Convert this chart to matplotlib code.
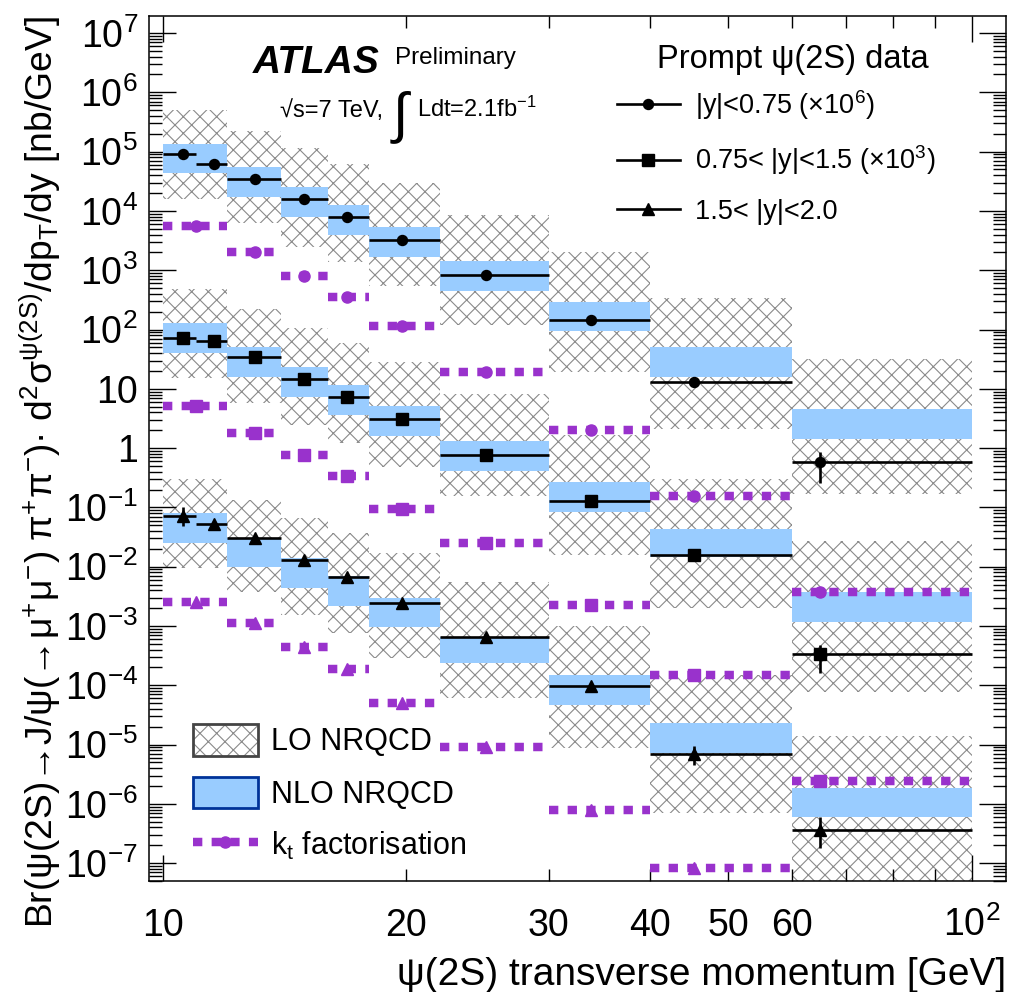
import numpy as np
import matplotlib
matplotlib.use("Agg")
import matplotlib.pyplot as plt
from matplotlib.ticker import LogLocator, FuncFormatter, NullFormatter
from matplotlib.patches import Patch
from matplotlib.lines import Line2D
from matplotlib.legend_handler import HandlerTuple

plt.rcParams['font.family'] = ['Liberation Sans', 'DejaVu Sans']
plt.rcParams['mathtext.fontset'] = 'custom'
plt.rcParams['mathtext.rm'] = 'Liberation Sans'
plt.rcParams['mathtext.it'] = 'Liberation Sans:italic'
plt.rcParams['mathtext.bf'] = 'Liberation Sans:bold'
plt.rcParams['mathtext.default'] = 'regular'
plt.rcParams['hatch.linewidth'] = 0.8

# --- data ---
data_edges = [10, 11, 12, 14, 16, 18, 22, 30, 40, 60, 100]
data_pt = [10.58, 11.56, 13.0, 14.93, 16.9, 19.75, 25.07, 33.8, 45.4, 65.0]
theo_edges = [10, 12, 14, 16, 18, 22, 30, 40, 60, 100]
kt_pt = [11.0, 13.0, 14.93, 16.9, 19.75, 25.07, 33.8, 45.4, 65.0]

# |y|<0.75 (x1e6)
top_val = [9.0e4, 6.25e4, 3.41e4, 1.57e4, 7.98e3, 3.23e3, 840, 145, 12.9, 0.59]
top_hi = [1.05e5, 7.0e4, 3.7e4, 1.7e4, 8.6e3, 3.5e3, 910, 160, 14.5, 0.85]
top_lo = [7.8e4, 5.6e4, 3.15e4, 1.45e4, 7.4e3, 2.98e3, 775, 130, 11.3, 0.26]
# 0.75<|y|<1.5 (x1e3)
mid_val = [72.8, 63, 34.7, 14.6, 7.2, 3.1, 0.755, 0.127, 0.0160, 3.33e-4]
mid_hi = [80, 68, 37.5, 15.8, 7.8, 3.35, 0.82, 0.14, 0.0182, 4.8e-4]
mid_lo = [66, 58, 32, 13.4, 6.6, 2.85, 0.69, 0.115, 0.0140, 1.58e-4]
# 1.5<|y|<2.0
bot_val = [0.0716, 0.0525, 0.0305, 0.013, 6.6e-3, 2.47e-3, 6.6e-4, 9.8e-5, 6.9e-6, 3.6e-7]
bot_hi = [0.103, 0.058, 0.034, 0.0145, 7.3e-3, 2.7e-3, 7.2e-4, 1.1e-4, 9.5e-6, 5.9e-7]
bot_lo = [0.049, 0.047, 0.027, 0.0116, 5.9e-3, 2.25e-3, 6.0e-4, 8.6e-5, 4.5e-6, 1.78e-7]

# NLO NRQCD bands
top_nlo_hi = [1.34e5, 5.43e4, 2.5e4, 1.24e4, 5.28e3, 1413, 288, 50.7, 4.56]
top_nlo_lo = [4.3e4, 1.74e4, 7.9e3, 3.97e3, 1.69e3, 451, 94.4, 16.0, 1.42]
mid_nlo_hi = [127, 50.7, 23, 11.5, 5.13, 1.32, 0.268, 0.0432, 3.74e-3]
mid_nlo_lo = [40.6, 15.8, 7.26, 3.6, 1.62, 0.416, 0.0845, 0.0148, 1.18e-3]
bot_nlo_hi = [0.0794, 0.0305, 0.0139, 6.97e-3, 3.0e-3, 6.5e-4, 1.49e-4, 2.29e-5, 1.88e-6]
bot_nlo_lo = [0.0254, 0.01, 4.38e-3, 2.2e-3, 9.5e-4, 2.34e-4, 4.7e-5, 7.1e-6, 6.1e-7]

# LO NRQCD bands
top_lo_hi = [5.03e5, 2.22e5, 1.13e5, 6.17e4, 2.95e4, 8.5e3, 2.0e3, 344, 31.8]
top_lo_lo = [1.58e4, 6.3e3, 2.49e3, 1.39e3, 541, 119, 19.0, 2.07, 0.166]
mid_lo_hi = [476, 219, 107, 58.5, 28.6, 8.07, 1.66, 0.30, 0.0271]
mid_lo_lo = [15.0, 5.7, 2.45, 1.22, 0.48, 0.156, 0.0157, 2.0e-3, 7.8e-5]
bot_lo_hi = [0.30, 0.133, 0.0655, 0.0366, 0.0168, 5.6e-3, 1.0e-3, 1.5e-4, 1.4e-5]
bot_lo_lo = [9.4e-3, 3.7e-3, 1.53e-3, 7.6e-4, 2.9e-4, 6.0e-5, 8.7e-6, 6.9e-7, 1e-8]

# kt factorisation
top_kt = [5.56e3, 2.0e3, 807, 357, 116, 19.4, 2.0, 0.155, 3.7e-3]
mid_kt = [5.13, 1.82, 0.774, 0.343, 0.094, 0.0254, 2.29e-3, 1.48e-4, 2.47e-6]
bot_kt = [2.57e-3, 1.14e-3, 4.37e-4, 1.88e-4, 5.0e-5, 9.0e-6, 7.9e-7, 8.2e-8, np.nan]

# --- style ---
hatch_gray = '#8a8a8a'
nlo_blue = '#99ccff'
kt_purple = '#9932cc'

fig = plt.figure(figsize=(10.09, 9.92), dpi=100)
ax = fig.add_axes([0.1477, 0.1119, 0.849, 0.872])
ax.set_xscale('log')
ax.set_yscale('log')

t_lo = np.array(theo_edges[:-1], dtype=float)
t_w = np.diff(theo_edges).astype(float)

series = [
    (top_val, top_lo, top_hi, top_nlo_lo, top_nlo_hi, top_lo_lo, top_lo_hi, top_kt, 'o', 7.2, 8.0),
    (mid_val, mid_lo, mid_hi, mid_nlo_lo, mid_nlo_hi, mid_lo_lo, mid_lo_hi, mid_kt, 's', 8.0, 8.5),
    (bot_val, bot_lo, bot_hi, bot_nlo_lo, bot_nlo_hi, bot_lo_lo, bot_lo_hi, bot_kt, '^', 8.0, 8.5),
]

for val, lo, hi, nlo_l, nlo_h, lo_l, lo_h, kt, mk, ms, kms in series:
    lo_l = np.array(lo_l); lo_h = np.array(lo_h)
    ax.bar(t_lo, lo_h - lo_l, bottom=lo_l, width=t_w, align='edge', fill=False,
           hatch='xx', edgecolor=hatch_gray, linewidth=0, zorder=1)
    nlo_l = np.array(nlo_l); nlo_h = np.array(nlo_h)
    ax.bar(t_lo, nlo_h - nlo_l, bottom=nlo_l, width=t_w, align='edge',
           color=nlo_blue, linewidth=0, zorder=2)
    for i, v in enumerate(kt):
        if np.isnan(v):
            continue
        ax.plot([theo_edges[i], theo_edges[i + 1]], [v, v], color=kt_purple, lw=6.1,
                dashes=(1.1, 1.1), dash_capstyle='butt', solid_capstyle='butt', zorder=3)
        ax.plot([kt_pt[i]], [v], marker=mk, ms=kms, color=kt_purple, lw=0, zorder=3)
    x = np.array(data_pt)
    y = np.array(val)
    xerr = [x - np.array(data_edges[:-1]), np.array(data_edges[1:]) - x]
    yerr = [y - np.array(lo), np.array(hi) - y]
    ax.errorbar(x, y, xerr=xerr, yerr=yerr, fmt=mk, color='k', ms=ms,
                elinewidth=1.9, capsize=0, zorder=5)

ax.set_xlim(9.61, 110.2)
ax.set_ylim(5.0e-8, 1.94e7)

# axes / ticks
for s in ax.spines.values():
    s.set_linewidth(1.1)
ax.xaxis.set_major_locator(LogLocator(base=10, numticks=10))
ax.xaxis.set_minor_locator(LogLocator(base=10, subs=np.arange(2, 10), numticks=10))
ax.xaxis.set_major_formatter(FuncFormatter(lambda v, p: '10' if v < 50 else r'$10^{2}$'))
ax.xaxis.set_minor_formatter(FuncFormatter(
    lambda v, p: f'{v:.0f}' if round(v) in (20, 30, 40, 50, 60) else ''))
ax.yaxis.set_major_locator(LogLocator(base=10, numticks=40))
ax.yaxis.set_minor_locator(LogLocator(base=10, subs=np.arange(2, 10), numticks=40))
ax.yaxis.set_minor_formatter(NullFormatter())


def ylab(v, pos):
    e = int(round(np.log10(v)))
    if e == 0:
        return '1'
    if e == 1:
        return '10'
    return r'$10^{%d}$' % e


ax.yaxis.set_major_formatter(FuncFormatter(ylab))
ax.tick_params(which='both', direction='in', top=True, right=True, width=1.0,
               labelsize=27)
ax.tick_params(axis='y', which='major', length=19.4, pad=8)
ax.tick_params(axis='y', which='minor', length=9.4)
ax.tick_params(axis='x', which='major', length=18.7, pad=39.6)
ax.tick_params(axis='x', which='minor', length=8.6, pad=39.6)

ax.set_xlabel('ψ(2S) transverse momentum [GeV]', fontsize=28, ha='right', va='baseline')
ax.xaxis.set_label_coords(1.0, -0.1202)
ax.set_ylabel('Br(ψ(2S)→J/ψ(→μ$^{+}$μ$^{-}$) π$^{+}$π$^{-}$)· d$^{2}$σ$^{ψ(2S)}$/dp$_{T}$/dy [nb/GeV]',
              fontsize=26.8, ha='right', va='baseline')
ax.yaxis.set_label_coords(-0.112, 1.0)

# ATLAS label
ax.text(0.121, 0.934, 'ATLAS', transform=ax.transAxes, fontsize=28,
        fontweight='bold', fontstyle='italic', va='baseline')
ax.text(0.287, 0.944, 'Preliminary', transform=ax.transAxes, fontsize=17.5, va='baseline')
ax.text(0.153, 0.883, '√s=7 TeV,', transform=ax.transAxes, fontsize=17, va='baseline')
ax.text(0.284, 0.867, '∫', transform=ax.transAxes, fontsize=40, va='baseline')
ax.text(0.3127, 0.883, 'Ldt=2.1fb$^{-1}$', transform=ax.transAxes, fontsize=17, va='baseline')

# data legend
ax.text(0.593, 0.940, 'Prompt ψ(2S) data', transform=ax.transAxes, fontsize=23.5, va='baseline')
data_handles = [Line2D([], [], color='k', lw=1.9, marker='o', ms=7.2),
                Line2D([], [], color='k', lw=1.9, marker='s', ms=8.0),
                Line2D([], [], color='k', lw=1.9, marker='^', ms=8.0)]
data_labels = ['|y|<0.75 (×10$^{6}$)', '0.75< |y|<1.5 (×10$^{3}$)', '1.5< |y|<2.0']
leg1 = ax.legend(data_handles, data_labels, loc='upper left', bbox_to_anchor=(0.546, 0.917),
                 frameon=False, fontsize=19.5, handlelength=2.33, handletextpad=0.55,
                 labelspacing=0.8, borderpad=0, borderaxespad=0, numpoints=1)
ax.add_artist(leg1)

# theory legend
th_handles = [
    (Patch(facecolor='white', edgecolor=hatch_gray, hatch='xx', lw=0),
     Patch(facecolor='none', edgecolor='#444444', lw=2)),
    Patch(facecolor=nlo_blue, edgecolor='#003399', lw=2),
    Line2D([], [], color=kt_purple, lw=6.1, dashes=(1.1, 1.1), dash_capstyle='butt',
           marker='o', ms=8),
]
th_labels = ['LO NRQCD', 'NLO NRQCD', 'k$_{t}$ factorisation']
ax.legend(th_handles, th_labels, loc='lower left', bbox_to_anchor=(0.0513, 0.0214),
          frameon=False, fontsize=22, handlelength=2.12, handleheight=1.2,
          handletextpad=0.42, labelspacing=0.64, borderpad=0, borderaxespad=0,
          numpoints=1, handler_map={tuple: HandlerTuple(ndivide=1, pad=0)})

fig.canvas.draw()
for lab in ax.get_xticklabels(which='both'):
    lab.set_va('baseline')

fig.savefig('out.png', dpi=100)
